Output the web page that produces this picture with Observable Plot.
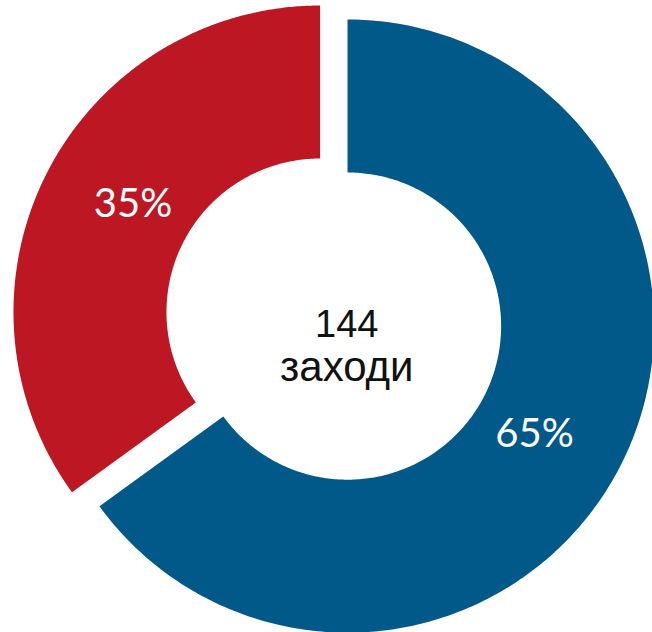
<!DOCTYPE html>
<html><head><meta charset="utf-8">
<script src="https://cdn.jsdelivr.net/npm/d3@7"></script>
<script src="https://cdn.jsdelivr.net/npm/@observablehq/plot@0.6"></script>
<style>html,body{margin:0;padding:0;background:#fff}</style>
</head><body><div id="chart"></div>
<script>
const segments = ["Сегмент A", "Сегмент B"];
const shares = [65, 35];
const shareLabels = ["65%", "35%"];
const segmentColors = ["#01598a", "#bd1723"];
const centerLines = ["144", "заходи"];

const W = 652, H = 632;
const R = 306.6, r = 153.6, explode = 15.4, labelR = 216, labelShift = 3 * Math.PI / 180;
const total = d3.sum(shares);
let acc = 0;
const pts = [], labels = [];
shares.forEach((v, i) => {
  const a0 = acc / total * 2 * Math.PI; acc += v; const a1 = acc / total * 2 * Math.PI;
  const mid = (a0 + a1) / 2;
  const ox = explode * Math.sin(mid), oy = explode * Math.cos(mid);
  const n = 300;
  for (let j = 0; j <= n; j++) { const a = a0 + (a1 - a0) * j / n; pts.push({s: segments[i], x: ox + R * Math.sin(a), y: oy + R * Math.cos(a)}); }
  for (let j = n; j >= 0; j--) { const a = a0 + (a1 - a0) * j / n; pts.push({s: segments[i], x: ox + r * Math.sin(a), y: oy + r * Math.cos(a)}); }
  labels.push({text: shareLabels[i], x: ox + labelR * Math.sin(mid + labelShift), y: oy + labelR * Math.cos(mid + labelShift)});
});

const chart = Plot.plot({
  width: W, height: H, margin: 0,
  x: {domain: [-333.3, 318.7], axis: null},
  y: {domain: [-313.4, 318.6], axis: null},
  color: {domain: segments, range: segmentColors},
  style: {background: "#fff"},
  marks: [
    Plot.line(pts, {x: "x", y: "y", z: "s", fill: "s", stroke: null, curve: "linear"}),
    Plot.text(labels, {x: "x", y: "y", text: "text", fill: "white", fontSize: 40, fontFamily: "Lato", fontWeight: 400, lineAnchor: "middle", textAnchor: "middle"}),
    Plot.text([centerLines[0]], {x: () => 0, y: () => 0, text: d => d, dx: 13, dy: 5.5, fontSize: 38, fontFamily: "Liberation Sans", fill: "#111", lineAnchor: "middle", textAnchor: "middle"}),
    Plot.text([centerLines[1]], {x: () => 0, y: () => 0, text: d => d, dx: 13, dy: 48.5, fontSize: 42, fontFamily: "Liberation Sans", fill: "#111", lineAnchor: "middle", textAnchor: "middle"})
  ]
});
document.getElementById("chart").appendChild(chart);
</script>
</body></html>
